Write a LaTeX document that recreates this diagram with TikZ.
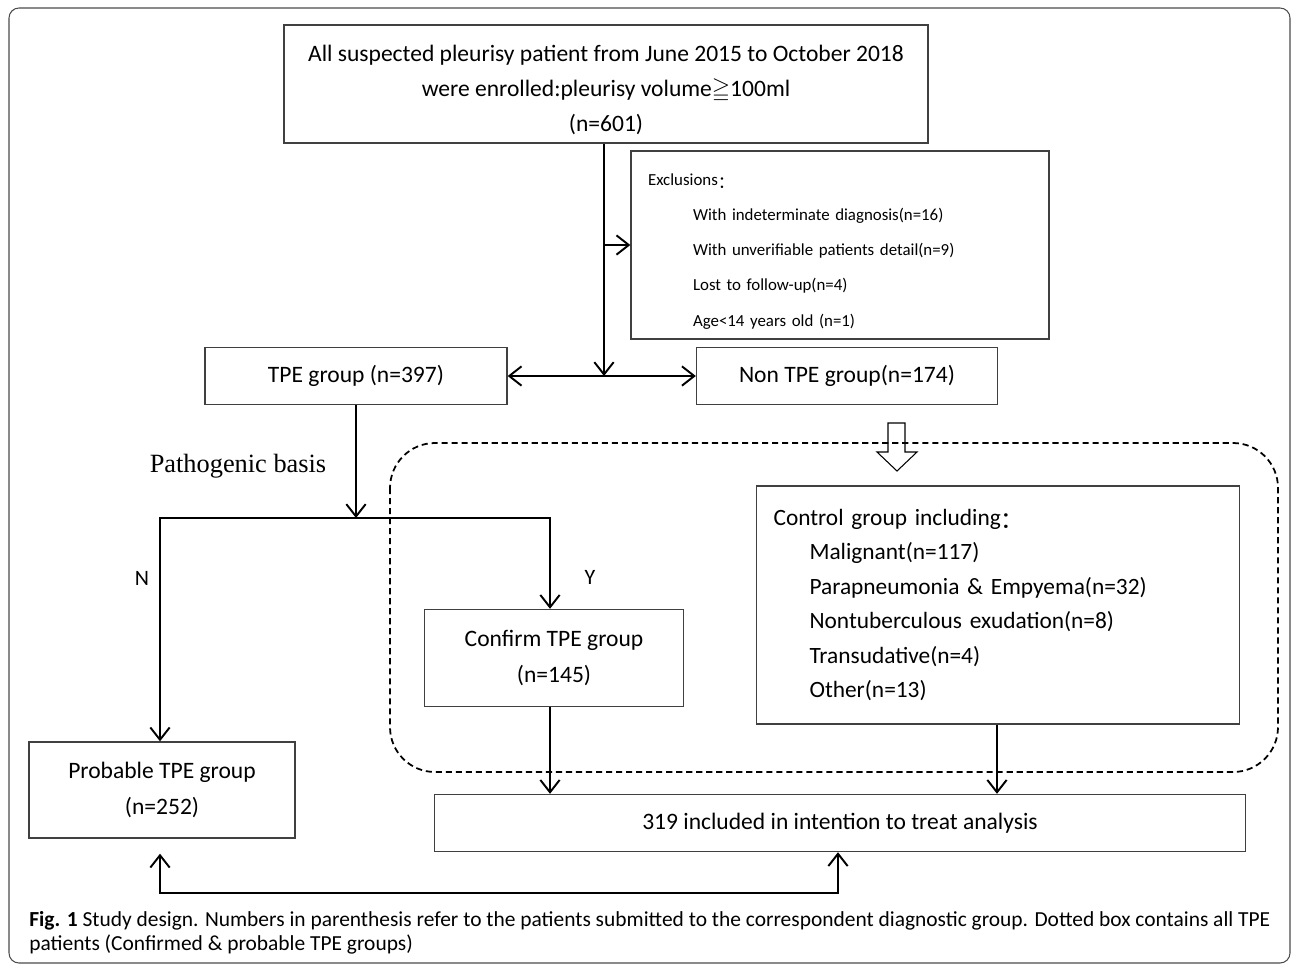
\documentclass[tikz,border=0pt]{standalone}
\usepackage{fontspec}
\usepackage{amssymb}
\setmainfont{Carlito}
\newfontfamily\timesfont{Liberation Serif}
\newfontfamily\cjkfont{Noto Sans CJK SC}
\usetikzlibrary{arrows.meta}

\newcommand{\fwcolon}{\raisebox{-0.15em}{\cjkfont ：}}

\begin{document}
\begin{tikzpicture}[x=0.02cm, y=-0.02cm,
    box/.style={draw=black!75, line width=0.8pt, align=center, inner sep=0pt,
                font=\fontsize{13.4}{20}\selectfont},
    arr/.style={line width=1.1pt, -{Straight Barb[length=7pt,width=11pt]}},
    dblarr/.style={line width=1.1pt, {Straight Barb[length=7pt,width=11pt]}-{Straight Barb[length=7pt,width=11pt]}},
    lab/.style={font=\fontsize{12.5}{14}\selectfont}]

    \useasboundingbox (0,0) rectangle (1292,964);

    % Frame
    \draw[black!70, line width=0.6pt, rounded corners=0.2cm] (9,8) rectangle (1290,963);

    % Boxes
    \node[box, minimum width=12.88cm, minimum height=2.36cm] (all) at (606,84)
        {\rule{0pt}{16pt}All suspected pleurisy patient from June 2015 to October 2018\\
         were enrolled:pleurisy volume$\geqq$100ml\\ (n=601)};
    \node[box, minimum width=8.36cm, minimum height=3.76cm, text width=7.68cm,
          align=left, font=\fontsize{9.6}{20}\selectfont] (excl) at (840,245)
        {\rule{0pt}{14pt}Exclusions\fwcolon\\
         \hspace*{0.9cm}With indeterminate diagnosis(n=16)\\
         \hspace*{0.9cm}With unverifiable patients detail(n=9)\\
         \hspace*{0.9cm}Lost to follow-up(n=4)\\
         \hspace*{0.9cm}Age<14 years old (n=1)};
    \node[box, minimum width=6.04cm, minimum height=1.14cm] (tpe) at (356,376) {TPE group (n=397)};
    \node[box, minimum width=6.02cm, minimum height=1.14cm] (non) at (847,376) {Non TPE group(n=174)};
    \node[box, minimum width=5.18cm, minimum height=1.94cm] (conf) at (554,658) {Confirm TPE group\\(n=145)};
    \node[box, minimum width=9.66cm, minimum height=4.76cm, text width=8.98cm,
          align=left, font=\fontsize{13.3}{19.6}\selectfont] (ctrl) at (998,605)
        {Control group including\fwcolon\\
         \hspace*{0.72cm}Malignant(n=117)\\
         \hspace*{0.72cm}Parapneumonia \& Empyema(n=32)\\
         \hspace*{0.72cm}Nontuberculous exudation(n=8)\\
         \hspace*{0.72cm}Transudative(n=4)\\
         \hspace*{0.72cm}Other(n=13)};
    \node[box, minimum width=5.32cm, minimum height=1.92cm] (prob) at (162,790) {Probable TPE group\\(n=252)};
    \node[box, minimum width=16.22cm, minimum height=1.14cm] (itt) at (840,823) {319 included in intention to treat analysis};

    % Dotted box
    \draw[line width=1pt, dash pattern=on 3.5pt off 2.2pt, rounded corners=0.9cm] (390,443) rectangle (1278,772);

    % Arrows
    \coordinate (top) at (all.south -| 604,0);
    \coordinate (mid) at (top |- tpe.east);
    \coordinate (split) at (tpe.south |- 0,518);
    \draw[arr] (top) -- (mid);
    \draw[arr] (top |- excl.west) -- (excl.west);
    \draw[dblarr] (tpe.east) -- (non.east -| non.west);
    \draw[arr] (tpe.south) -- (split);
    \draw[arr] (split) -| (prob.north -| 160,0);
    \draw[arr] (split) -| (conf.north -| 550,0);
    \draw[arr] (conf.south -| 550,0) -- (itt.north -| 550,0);
    \draw[arr] (ctrl.south -| 997,0) -- (itt.north -| 997,0);
    \draw[dblarr] (prob.south -| 160,0) ++(0,15) |- (838,893) -- (itt.south -| 838,0);

    % Hollow arrow
    \draw[line width=0.6pt] (888,423) -- (905,423) -- (905,452) -- (917,452) -- (897,471)
        -- (877,452) -- (888,452) -- cycle;

    % Text
    \node[font=\timesfont\fontsize{15}{18}\selectfont] (basis) at (238,466) {Pathogenic basis};
    \node[lab] (n) at (142,578) {N};
    \node[lab] (y) at (590,577) {Y};

    % Caption
    \node[anchor=base west, align=left, inner sep=0pt, font=\fontsize{12.2}{13.6}\selectfont] (cap) at (29,950)
        {\textbf{Fig. 1} Study design. Numbers in parenthesis refer to the patients submitted to the correspondent diagnostic group. Dotted box contains all TPE\\
         patients (Confirmed \& probable TPE groups)};

\end{tikzpicture}
\end{document}
